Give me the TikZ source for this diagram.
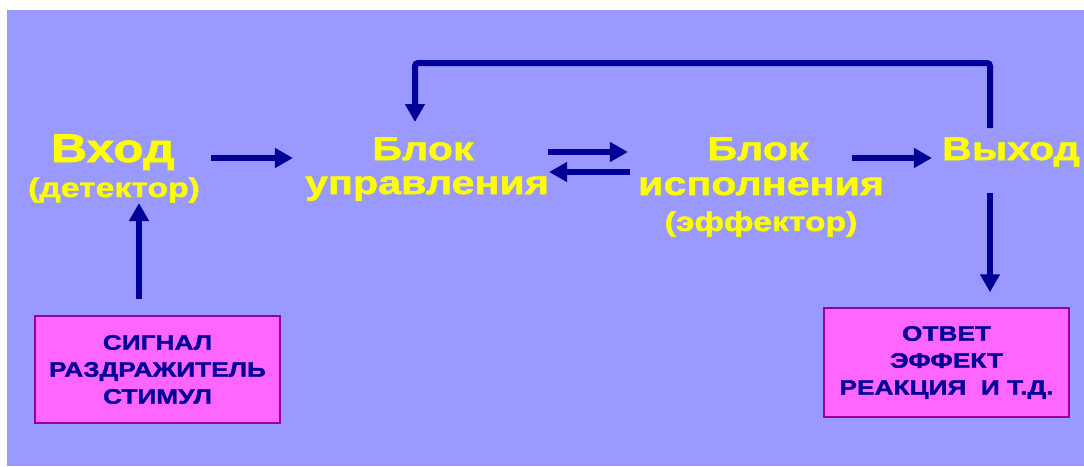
\documentclass[tikz,border=0pt]{standalone}
\usepackage{fontspec}
\setmainfont{Liberation Sans}[FakeStretch=1.25, BoldFeatures={FakeBold=1.5}]
\usetikzlibrary{arrows.meta, calc, positioning}

\definecolor{bgblue}{HTML}{9999FF}
\definecolor{ylw}{HTML}{FFFF00}
\definecolor{navy}{HTML}{000099}
\definecolor{pinkbox}{HTML}{FF66FF}
\definecolor{pinkedge}{HTML}{990099}

\begin{document}
\begin{tikzpicture}[x=1pt, y=-1pt,
    big/.style={anchor=base, inner sep=0pt, text=ylw, font=\bfseries\fontsize{40}{48}\selectfont},
    hdr/.style={anchor=base, inner sep=0pt, text=ylw, font=\bfseries\fontsize{33}{38}\selectfont},
    sub/.style={anchor=base, inner sep=0pt, text=ylw, font=\bfseries\fontsize{27}{30}\selectfont},
    card/.style={draw=pinkedge, line width=1.5pt, fill=pinkbox, text=navy, align=center,
        minimum width=245pt, inner sep=0pt, font=\bfseries\fontsize{21}{27}\selectfont},
    arr/.style={draw=navy, line width=6pt, -{Triangle[length=18pt,width=19pt]}}]

    \useasboundingbox (0,0) rectangle (1084,466);
    \fill[bgblue] (7,10) rectangle (1084,466);

    % Text of the chain
    \node (vhod) [big] at (113,162) {Вход};
    \node (det) [sub] at (114,197) {(детектор)};
    \node (blok1) [hdr] at (423,160) {Блок};
    \node (upr) [hdr] at (427,194) {управления};
    \node (blok2) [hdr] at (758,160) {Блок};
    \node (isp) [hdr] at (761,195) {исполнения};
    \node (eff) [sub] at (761,231) {(эффектор)};
    \node (vyhod) [hdr] at (1011,160) {Выход};

    % Boxes at the bottom
    \node (signal) [card, minimum height=107pt] at (157.5,369.5)
        {СИГНАЛ\\РАЗДРАЖИТЕЛЬ\\СТИМУЛ};
    \node (otvet) [card, minimum height=109pt] at (946.5,362.5)
        {ОТВЕТ\\ЭФФЕКТ\\РЕАКЦИЯ\ \ И Т.Д.};

    % Arrows along the chain
    \draw[arr] ($(vhod.base east)+(36,-4)$) -- ($(upr.base west)+(-12,-36)$);
    \draw[arr] ($(upr.base east)+(-1,-42)$) -- ($(isp.base west)+(-10,-43)$);
    \draw[arr] ($(isp.base west)+(-8,-23)$) -- ($(upr.base east)+(0,-22)$);
    \draw[arr] ($(blok2.base east)+(43,-2)$) -- ($(vyhod.base west)+(-10,-2)$);

    % Input and output
    \coordinate (outtap) at ($(vyhod.base)+(-21,33)$);
    \draw[arr] (outtap) -- (outtap |- otvet.north) [shorten >=15pt];
    \coordinate (intap) at ($(signal.north)+(-18.5,-16)$);
    \draw[arr] (intap) -- ($(det.base)+(25,6)$);

    % Feedback loop
    \draw[arr, rounded corners=3pt] ($(vyhod.base)+(-21,-32)$) |- ($(blok1.base)+(-8,-97)$)
        -- ($(blok1.base)+(-8,-38)$);
\end{tikzpicture}
\end{document}
